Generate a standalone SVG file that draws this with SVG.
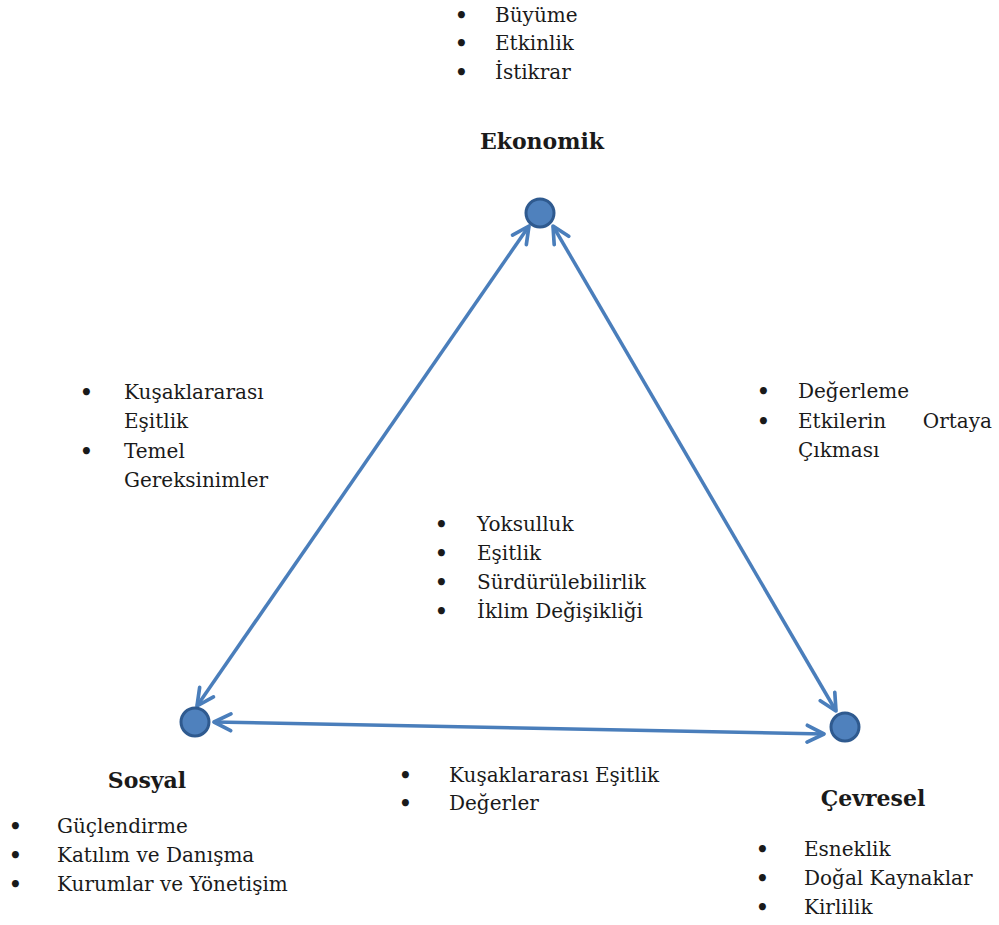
<svg xmlns="http://www.w3.org/2000/svg" width="999" height="925" viewBox="0 0 999 925">
<style>
text{font-family:"DejaVu Serif","Liberation Serif","Noto Serif",serif;fill:#1a1a1a;font-size:20px}
.t{font-weight:bold;font-size:22px;text-anchor:middle}
.b{font-size:20px;font-weight:bold}
.node{fill:#4f81bd;stroke:#2f5a8f;stroke-width:3}
.edge{stroke:#4a7ebb;stroke-width:3.5;fill:none;marker-start:url(#ah);marker-end:url(#ah)}
</style>
<defs>
<marker id="ah" viewBox="0 0 20 20" refX="18" refY="10" markerWidth="6" markerHeight="6" orient="auto-start-reverse" markerUnits="strokeWidth">
<path d="M2,2 L18,10 L2,18" fill="none" stroke="#4a7ebb" stroke-width="3.5" stroke-linecap="round" stroke-linejoin="round"/>
</marker>
</defs>
<rect width="999" height="925" fill="#fff"/>
<g id="connectors">
<line class="edge" x1="529" y1="226" x2="197" y2="706"/>
<line class="edge" x1="553" y1="226" x2="836" y2="711"/>
<line class="edge" x1="214" y1="722" x2="824" y2="734"/>
</g>
<g id="ekonomik">
<circle class="node" cx="540" cy="213" r="14"/>
<text class="t" x="542" y="149">Ekonomik</text>
<text class="b" x="455" y="22">•</text><text x="495" y="22">Büyüme</text>
<text class="b" x="455" y="50">•</text><text x="495" y="50">Etkinlik</text>
<text class="b" x="455" y="79">•</text><text x="495" y="79">İstikrar</text>
</g>
<g id="sosyal">
<circle class="node" cx="195" cy="722" r="14"/>
<text class="t" x="147" y="788">Sosyal</text>
<text class="b" x="9" y="833">•</text><text x="57" y="833">Güçlendirme</text>
<text class="b" x="9" y="862">•</text><text x="57" y="862">Katılım ve Danışma</text>
<text class="b" x="9" y="891">•</text><text x="57" y="891">Kurumlar ve Yönetişim</text>
</g>
<g id="cevresel">
<circle class="node" cx="845" cy="727" r="14"/>
<text class="t" x="873" y="806">Çevresel</text>
<text class="b" x="756" y="856">•</text><text x="804" y="856">Esneklik</text>
<text class="b" x="756" y="885">•</text><text x="804" y="885">Doğal Kaynaklar</text>
<text class="b" x="756" y="914">•</text><text x="804" y="914">Kirlilik</text>
</g>
<g id="sosyal-ekonomik-label">
<text class="b" x="80" y="399">•</text><text x="124" y="399">Kuşaklararası</text>
<text x="124" y="428">Eşitlik</text>
<text class="b" x="80" y="458">•</text><text x="124" y="458">Temel</text>
<text x="124" y="487">Gereksinimler</text>
</g>
<g id="ekonomik-cevresel-label">
<text class="b" x="757" y="398">•</text><text x="798" y="398">Değerleme</text>
<text class="b" x="757" y="428">•</text><text x="798" y="428">Etkilerin</text><text x="992" y="428" text-anchor="end">Ortaya</text>
<text x="798" y="457">Çıkması</text>
</g>
<g id="center-label">
<text class="b" x="435" y="531">•</text><text x="477" y="531">Yoksulluk</text>
<text class="b" x="435" y="560">•</text><text x="477" y="560">Eşitlik</text>
<text class="b" x="435" y="589">•</text><text x="477" y="589">Sürdürülebilirlik</text>
<text class="b" x="435" y="618">•</text><text x="477" y="618">İklim Değişikliği</text>
</g>
<g id="sosyal-cevresel-label">
<text class="b" x="399" y="782">•</text><text x="449" y="782">Kuşaklararası Eşitlik</text>
<text class="b" x="399" y="810">•</text><text x="449" y="810">Değerler</text>
</g>
</svg>
